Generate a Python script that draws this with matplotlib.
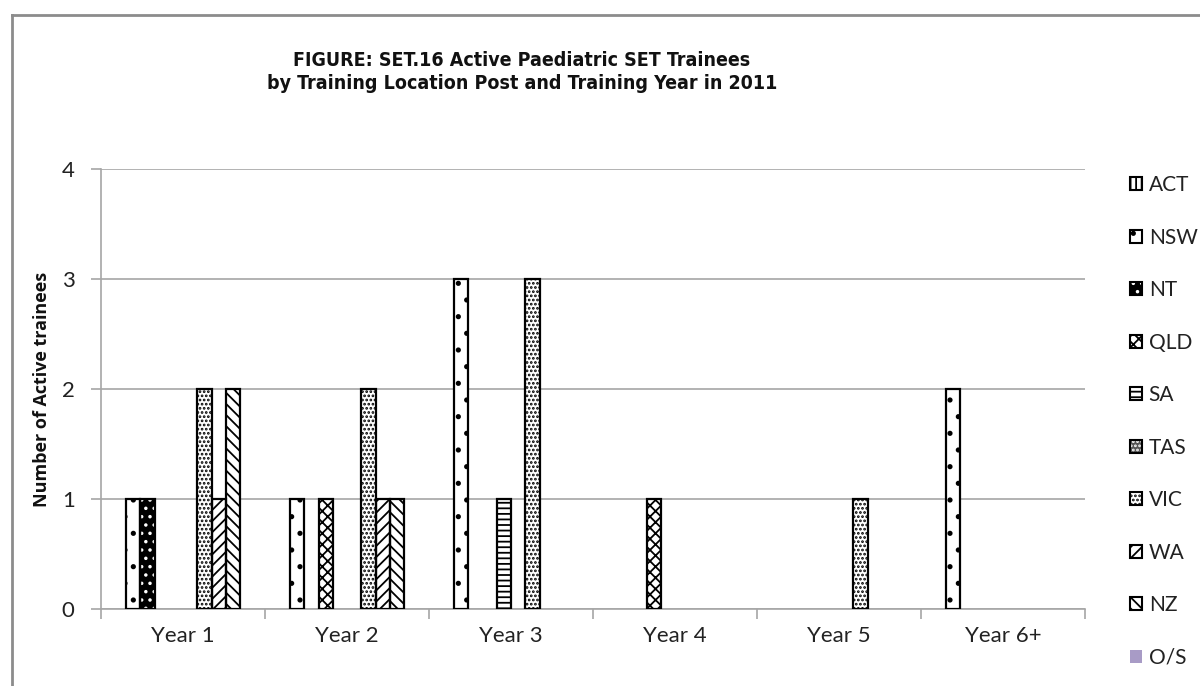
import numpy as np
import matplotlib
matplotlib.use("Agg")
import matplotlib.pyplot as plt
from matplotlib.lines import Line2D
from matplotlib.patches import Patch
from matplotlib.legend_handler import HandlerTuple

# Data
years = ["Year 1", "Year 2", "Year 3", "Year 4", "Year 5", "Year 6+"]
regions = ["ACT", "NSW", "NT", "QLD", "SA", "TAS", "VIC", "WA", "NZ", "O/S"]
act = [0, 0, 0, 0, 0, 0]
nsw = [1, 1, 3, 0, 0, 2]
nt = [1, 0, 0, 0, 0, 0]
qld = [0, 1, 0, 1, 0, 0]
sa = [0, 0, 1, 0, 0, 0]
tas = [0, 0, 0, 0, 0, 0]
vic = [2, 2, 3, 0, 1, 0]
wa = [1, 1, 0, 0, 0, 0]
nz = [2, 1, 0, 0, 0, 0]
os_ = [0, 0, 0, 0, 0, 0]
series = [act, nsw, nt, qld, sa, tas, vic, wa, nz, os_]

# fill styles (face, hatch colour, hatch)
styles = [
    ("white", "black", "|||"),
    ("white", "black", "."),
    ("black", "white", ".."),
    ("white", "black", "xxx"),
    ("white", "black", "---"),
    ("#555555", "white", "...."),
    ("white", "black", "...."),
    ("white", "black", "///"),
    ("white", "black", "\\\\\\"),
    ("#A89BC6", "#A89BC6", ""),
]

plt.rcParams["hatch.linewidth"] = 1.3
plt.rcParams["font.family"] = ["Lato", "DejaVu Sans"]

fig = plt.figure(figsize=(12, 6.86), dpi=100)
ax = fig.add_axes([0.0842, 0.1122, 0.82, 0.6414])

x = np.arange(len(years))
w = 1 / 11.5
for i, vals in enumerate(series):
    face, hc, hatch = styles[i]
    vals = np.array(vals)
    pos = x + (i - 4.5) * w
    keep = vals > 0
    if not keep.any():
        continue
    # hatch layer
    ax.bar(pos[keep], vals[keep], w, color=face, edgecolor=hc, hatch=hatch,
           linewidth=0, zorder=3)
    # outline
    ax.bar(pos[keep], vals[keep], w, facecolor="none", edgecolor="black",
           linewidth=1.6, zorder=4)

ax.set_xlim(-0.5, 5.5)
ax.set_ylim(0, 4)
ax.set_yticks([0, 1, 2, 3, 4])
ax.yaxis.grid(True, color="#A6A6A6", linewidth=1.2, zorder=0)
ax.set_axisbelow(True)
for s in ["top", "right"]:
    ax.spines[s].set_visible(False)
for s in ["left", "bottom"]:
    ax.spines[s].set_color("#A6A6A6")
    ax.spines[s].set_linewidth(1.2)

ax.set_xticks(np.arange(-0.5, 6, 1))
ax.set_xticklabels([])
ax.set_xticks(x, minor=True)
ax.set_xticklabels(years, minor=True, fontsize=16, color="#222222")
ax.tick_params(axis="x", which="major", length=7, width=1.2, color="#A6A6A6")
ax.tick_params(axis="x", which="minor", length=0, pad=12)
ax.tick_params(axis="y", length=7, width=1.2, color="#A6A6A6", labelsize=16,
               labelcolor="#222222", pad=12)

ax.set_ylabel("Number of Active trainees", fontsize=13, fontweight="bold",
              family="Open Sans", color="#111111", labelpad=8)

fig.text(0.435, 0.895, "FIGURE: SET.16 Active Paediatric SET Trainees\n"
         "by Training Location Post and Training Year in 2011",
         ha="center", va="center", fontsize=14, fontweight="bold",
         fontstretch="condensed", family="DejaVu Sans", linespacing=1.3,
         color="#111111")

handles = []
for i, name in enumerate(regions):
    face, hc, hatch = styles[i]
    if hatch:
        fill = Patch(facecolor=face, edgecolor=hc, hatch=hatch, linewidth=0)
        edge = Patch(facecolor="none", edgecolor="black", linewidth=1.5)
        handles.append((fill, edge))
    else:
        handles.append(Patch(facecolor=face, edgecolor="none"))
leg = fig.legend(handles=handles, labels=regions, loc="upper left",
                 bbox_to_anchor=(0.926, 0.772), frameon=False, fontsize=15,
                 labelspacing=1.56, handlelength=0.6, handleheight=0.6,
                 handletextpad=0.3, handler_map={tuple: HandlerTuple(ndivide=1)})
for t in leg.get_texts():
    t.set_color("#222222")

# outer chart border (top and left visible)
fig.add_artist(Line2D([0.01, 1.0], [1 - 15 / 686, 1 - 15 / 686],
                      transform=fig.transFigure, color="#8C8C8C", linewidth=2))
fig.add_artist(Line2D([0.01, 0.01], [0.0, 1 - 15 / 686],
                      transform=fig.transFigure, color="#8C8C8C", linewidth=2))

fig.savefig("out.png", dpi=100)
